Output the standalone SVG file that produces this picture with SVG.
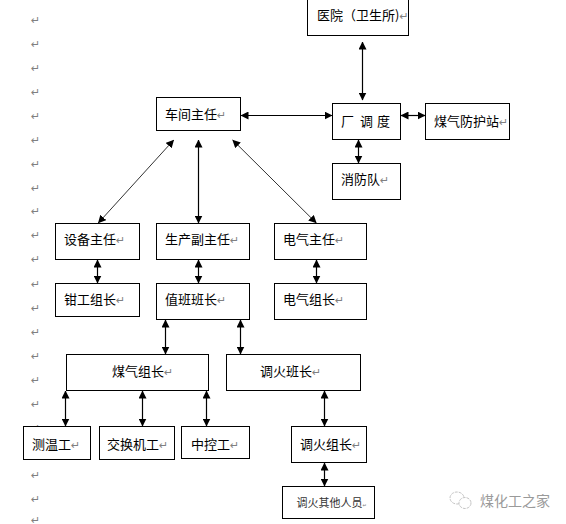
<svg xmlns="http://www.w3.org/2000/svg" width="566" height="524" viewBox="0 0 566 524">
<style>
text{font-family:"Noto Sans CJK SC","Liberation Sans",sans-serif;font-size:13px;fill:#000}
.m{font-family:"DejaVu Sans",sans-serif;font-size:11px;fill:#808080}
.b{fill:#fff;stroke:#000;stroke-width:1}
.c line{stroke:#000;stroke-width:1.2;marker-start:url(#a);marker-end:url(#a)}
.c line.d{stroke:#333;stroke-width:1}
</style>
<defs>
<marker id="a" viewBox="0 0 8 8" refX="7.5" refY="4" markerWidth="8" markerHeight="8" markerUnits="userSpaceOnUse" orient="auto-start-reverse"><path d="M0 0L8 4L0 8Z" fill="#000"/></marker>
</defs>
<rect width="566" height="524" fill="#fff"/>
<g id="paragraph-marks" class="marks">
<text class="m" x="31" y="24">↵</text><text class="m" x="31" y="48">↵</text><text class="m" x="31" y="72">↵</text><text class="m" x="31" y="96">↵</text><text class="m" x="31" y="120">↵</text><text class="m" x="31" y="144">↵</text><text class="m" x="31" y="168">↵</text><text class="m" x="31" y="192">↵</text><text class="m" x="31" y="215">↵</text><text class="m" x="31" y="239">↵</text><text class="m" x="31" y="263">↵</text><text class="m" x="31" y="288">↵</text><text class="m" x="31" y="312">↵</text><text class="m" x="31" y="336">↵</text><text class="m" x="31" y="360">↵</text><text class="m" x="31" y="384">↵</text><text class="m" x="31" y="408">↵</text><text class="m" x="31" y="432">↵</text><text class="m" x="31" y="479">↵</text><text class="m" x="31" y="503">↵</text><text class="m" x="31" y="524">↵</text>
</g>
<g id="connectors" class="c">
<line x1="241" y1="115.5" x2="332" y2="115.5"/>
<line x1="362.5" y1="42" x2="362.5" y2="100"/>
<line x1="401" y1="115.5" x2="425" y2="115.5"/>
<line x1="358.5" y1="140" x2="358.5" y2="163"/>
<line class="d" x1="173.7" y1="140" x2="98.3" y2="223"/>
<line x1="198.5" y1="140" x2="198.5" y2="223"/>
<line class="d" x1="232.7" y1="140" x2="316.3" y2="223"/>
<line x1="97.5" y1="260" x2="97.5" y2="283"/>
<line x1="198.5" y1="260" x2="198.5" y2="283"/>
<line x1="316.5" y1="260" x2="316.5" y2="283"/>
<line x1="165.5" y1="320" x2="165.5" y2="354"/>
<line x1="240.5" y1="320" x2="240.5" y2="354"/>
<line x1="65.5" y1="391" x2="65.5" y2="426"/>
<line x1="142.5" y1="391" x2="142.5" y2="426"/>
<line x1="206.5" y1="391" x2="206.5" y2="426"/>
<line x1="324.5" y1="391" x2="324.5" y2="426"/>
<line x1="324.5" y1="463" x2="324.5" y2="486"/>
</g>
<g id="hospital"><rect class="b" x="307.5" y="-1" width="101" height="36.5"/><text x="317" y="20">医院（卫生所)<tspan class="m">↵</tspan></text></g>
<g id="workshop"><rect class="b" x="156.5" y="97.5" width="84" height="33"/><text x="165" y="119">车间主任<tspan class="m">↵</tspan></text></g>
<g id="dispatch"><rect class="b" x="332.5" y="103.5" width="68" height="36"/><text x="341 360 377" y="126">厂调度</text></g>
<g id="gas-station"><rect class="b" x="425.5" y="103.5" width="84" height="36"/><text x="434" y="126">煤气防护站<tspan class="m">↵</tspan></text></g>
<g id="fire"><rect class="b" x="332.5" y="163.5" width="68" height="36"/><text x="341" y="184">消防队<tspan class="m">↵</tspan></text></g>
<g id="equipment"><rect class="b" x="55.5" y="223.5" width="84" height="36"/><text x="64" y="244">设备主任<tspan class="m">↵</tspan></text></g>
<g id="production"><rect class="b" x="156.5" y="223.5" width="93" height="36"/><text x="165" y="244">生产副主任<tspan class="m">↵</tspan></text></g>
<g id="electric"><rect class="b" x="274.5" y="223.5" width="92" height="36"/><text x="283" y="244">电气主任<tspan class="m">↵</tspan></text></g>
<g id="fitter"><rect class="b" x="55.5" y="283.5" width="84" height="33"/><text x="64" y="304">钳工组长<tspan class="m">↵</tspan></text></g>
<g id="shift"><rect class="b" x="156.5" y="283.5" width="93" height="36"/><text x="165" y="304">值班班长<tspan class="m">↵</tspan></text></g>
<g id="electric-group"><rect class="b" x="274.5" y="283.5" width="92" height="36"/><text x="283" y="304">电气组长<tspan class="m">↵</tspan></text></g>
<g id="gas-group"><rect class="b" x="66.5" y="354.5" width="142" height="36"/><text x="112" y="376">煤气组长<tspan class="m">↵</tspan></text></g>
<g id="fire-shift"><rect class="b" x="226.5" y="354.5" width="134" height="36"/><text x="260" y="376">调火班长<tspan class="m">↵</tspan></text></g>
<g id="temp"><rect class="b" x="23.5" y="426.5" width="67" height="33"/><text x="32" y="449">测温工<tspan class="m">↵</tspan></text></g>
<g id="exchange"><rect class="b" x="99.5" y="426.5" width="75" height="33"/><text x="107" y="449">交换机工<tspan class="m">↵</tspan></text></g>
<g id="control"><rect class="b" x="181.5" y="426.5" width="68" height="32"/><text x="191" y="449">中控工<tspan class="m">↵</tspan></text></g>
<g id="fire-group"><rect class="b" x="291.5" y="426.5" width="75" height="36"/><text x="300" y="449">调火组长<tspan class="m">↵</tspan></text></g>
<g id="fire-others"><rect class="b" x="282.5" y="486.5" width="92" height="32"/><text x="296.5" y="507" style="font-size:11px;fill:#333">调火其他人员<tspan class="m" style="font-size:5px">↵</tspan></text></g>
<g id="watermark">
<ellipse cx="457" cy="498" rx="7" ry="6" fill="#fff" stroke="#c4c4c4" stroke-dasharray="3 1"/>
<ellipse cx="465" cy="503" rx="6" ry="5.5" fill="#fff" stroke="#c4c4c4" stroke-dasharray="3 1"/>
<text x="480" y="506" style="font-size:14px;fill:#9a9a9a">煤化工之家</text>
</g>
</svg>
